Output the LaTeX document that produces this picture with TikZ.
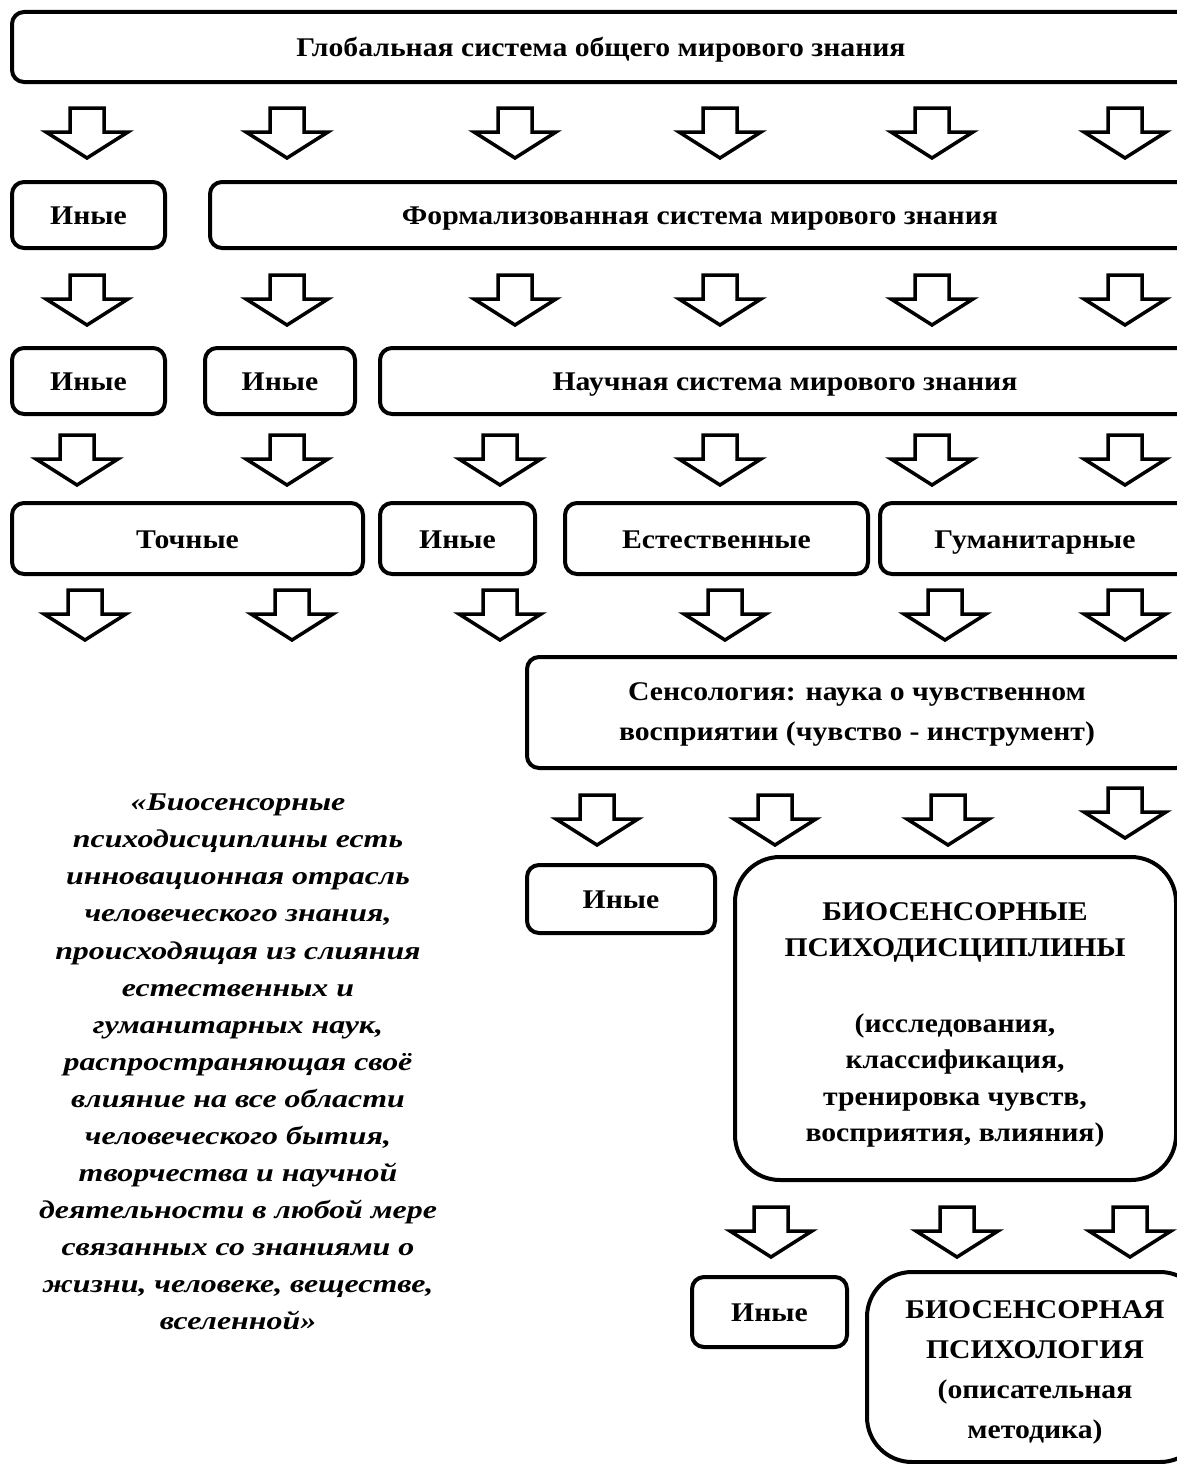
\documentclass[tikz,border=0pt]{standalone}
\usepackage{fontspec}
\setmainfont{Liberation Serif}
\newfontfamily\boxfont{Liberation Serif}[FakeStretch=1.1]
\newfontfamily\quotefont{Liberation Serif}[FakeStretch=1.25]
\newcommand\sst{\rule[-9pt]{0pt}{37pt}}
\newcommand\bx[7]{\node[box,#6,minimum width={#4-#2},minimum height={#5-#3}] (#1) at ({(#2+#4)/2},{(#3+#5)/2}) {#7};}
\newcommand\darr[3]{\draw[barrow] ({#2-17},{#3}) -- ++(34,0) -- ++(0,24) -- ++(24,0) -- ({#2},{#3+50}) -- ({#2-41},{#3+24}) -- ++(24,0) -- cycle; \coordinate (#1) at ({#2},{#3});}
\begin{document}
\begin{tikzpicture}[x=1pt,y=-1pt,
  box/.style={draw, line width=4pt, rounded corners=12pt, align=center, inner sep=0pt,
    font=\boxfont\bfseries\fontsize{27}{37}\selectfont},
  bigbox/.style={rounded corners=45pt},
  btext/.style={align=center, inner sep=0pt, font=\boxfont\bfseries\fontsize{27}{40}\selectfont},
  barrow/.style={draw, line width=3.5pt, miter limit=10},
  quote/.style={align=center, inner sep=0pt, font=\quotefont\bfseries\itshape\fontsize{25.5}{37.07}\selectfont}]
\useasboundingbox (0,0) rectangle (1177,1464);
\clip (0,0) rectangle (1177,1464);
% row 1
\bx{g}{12}{12}{1190}{82}{}{\sst Глобальная система общего мирового знания}
\foreach \x [count=\i] in {87,287,515,720,932,1125} {\darr{a1\i}{\x}{108}}
% row 2
\bx{f1}{12}{182}{165}{248}{}{\sst Иные}
\bx{f2}{210}{182}{1190}{248}{}{\sst Формализованная система мирового знания}
\foreach \x [count=\i] in {87,287,515,720,932,1125} {\darr{a2\i}{\x}{275}}
% row 3
\bx{s1}{12}{348}{165}{414}{}{\sst Иные}
\bx{s2}{205}{348}{355}{414}{}{\sst Иные}
\bx{s3}{380}{348}{1190}{414}{}{\sst Научная система мирового знания}
\foreach \x [count=\i] in {77,287,500,720,932,1125} {\darr{a3\i}{\x}{435}}
% row 4
\bx{t1}{12}{503}{363}{574}{}{\sst Точные}
\bx{t2}{380}{503}{535}{574}{}{\sst Иные}
\bx{t3}{565}{503}{868}{574}{}{\sst Естественные}
\bx{t4}{880}{503}{1190}{574}{}{\sst Гуманитарные}
\foreach \x [count=\i] in {85,292,500,725,945,1125} {\darr{a4\i}{\x}{590}}
% row 5
\bx{sen}{527}{657}{1188}{768}{}{}
\node[btext] (sent) at (857,714) {Сенсология: наука о чувственном\\восприятии (чувство - инструмент)};
\darr{a51}{597}{795}
\darr{a52}{775}{795}
\darr{a53}{948}{795}
\darr{a54}{1125}{788}
% row 6
\bx{i6}{527}{865}{715}{933}{}{\sst Иные}
\bx{bio}{735}{857}{1176}{1180}{bigbox}{}
\node[btext, font=\boxfont\bfseries\fontsize{27}{36.5}\selectfont] (biot) at (955,1025) {БИОСЕНСОРНЫЕ\\ПСИХОДИСЦИПЛИНЫ\\[39pt](исследования,\\классификация,\\тренировка чувств,\\восприятия, влияния)};
\darr{a61}{771}{1207}
\darr{a62}{957}{1207}
\darr{a63}{1130}{1207}
% row 7
\bx{i7}{692}{1277}{847}{1347}{}{\sst Иные}
\bx{bio2}{867}{1272}{1205}{1462}{bigbox}{}
\node[btext] (bio2t) at (1035,1372) {БИОСЕНСОРНАЯ\\ПСИХОЛОГИЯ\\(описательная\\методика)};
% quote
\node[quote] (q) at (238,1062) {«Биосенсорные\\психодисциплины есть\\инновационная отрасль\\человеческого знания,\\происходящая из слияния\\естественных и\\гуманитарных наук,\\распространяющая своё\\влияние на все области\\человеческого бытия,\\творчества и научной\\деятельности в любой мере\\связанных со знаниями о\\жизни, человеке, веществе,\\вселенной»};
\end{tikzpicture}
\end{document}
